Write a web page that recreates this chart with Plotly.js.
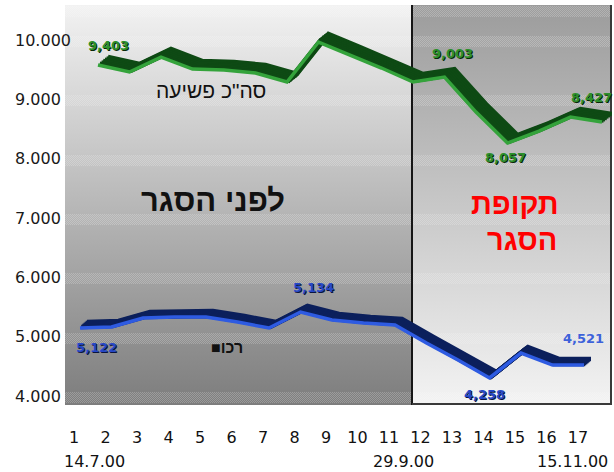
<!DOCTYPE html>
<html>
<head>
<meta charset="utf-8">
<script src="https://cdn.plot.ly/plotly-3.0.1.min.js"></script>
<style>html,body{margin:0;padding:0;background:#fff;}#chart{width:614px;height:472px;}</style>
</head>
<body>
<div id="chart"></div>
<script>
// ---- data ----
const periods = [1,2,3,4,5,6,7,8,9,10,11,12,13,14,15,16,17];
const periodText = ['1','2','3','4','5','6','7','8','9','10','11','12','13','14','15','16','17'];
const dateAt = [1, 11, 17];
const dateText = ['14.7.00', '29.9.00', '15.11.00'];
const totalCrime = [9579, 9461, 9713, 9511, 9494, 9444, 9292, 9966, 9747, 9528, 9292, 9376, 8786, 8264, 8466, 8702, 8618];
const property   = [5146, 5163, 5314, 5331, 5331, 5247, 5146, 5416, 5281, 5230, 5196, 4893, 4607, 4304, 4724, 4522, 4522];
const totalLabelAt = [1, 12, 14, 17];
const totalLabelText = ['9,403', '9,003', '8,057', '8,427'];
const propLabelAt = [1, 8, 14, 17];
const propLabelText = ['5,122', '5,134', '4,258', '4,521'];
const yTickVals = [4000, 5000, 6000, 7000, 8000, 9000, 10000];
const yTickText = ['4.000', '5.000', '6.000', '7.000', '8.000', '9.000', '10.000'];

// ---- geometry ----
const W = 614, H = 472, ML = 65, MR = 2, MT = 5, MB = 67;
const PW = W - ML - MR, PH = H - MT - MB;
const PXU = 31.5;                       // px per category
const X0 = 1 - 15 / PXU, X1 = X0 + PW / PXU;
const YPX = 59.33 / 1000;               // px per unit
const Y0 = 4000 - 9 / YPX, Y1 = Y0 + PH / YPX;

// ---- background canvas ----
function makeBg() {
  const c = document.createElement('canvas');
  c.width = PW; c.height = PH;
  const g = c.getContext('2d');
  const bx = 347;
  let gl = g.createLinearGradient(0, 0, 0, PH);
  gl.addColorStop(0, '#f2f2f2'); gl.addColorStop(1, '#7d7d7d');
  g.fillStyle = gl; g.fillRect(0, 0, bx, PH);
  let gr = g.createLinearGradient(0, 0, 0, PH);
  gr.addColorStop(0, '#9c9c9c'); gr.addColorStop(1, '#f3f3f3');
  g.fillStyle = gr; g.fillRect(bx, 0, PW - bx, PH);
  // dotted bands
  g.fillStyle = 'rgba(255,255,255,0.22)';
  yTickVals.concat([10500]).forEach(v => {
    const py = Math.round((Y1 - v) * YPX);
    for (let y = py - 4; y <= py + 6; y++) {
      if (y < 0 || y >= PH) continue;
      for (let x = (y % 2); x < PW; x += 2) g.fillRect(x, y, 1, 1);
    }
  });
  g.fillStyle = '#161616'; g.fillRect(bx - 1, 0, 2, PH);
  g.fillStyle = '#3a3a3a';
  g.fillRect(PW - 2, 0, 2, PH);
  g.fillRect(bx, PH - 2, PW - bx, 2);
  return c.toDataURL();
}

const layout = {
  width: W, height: H,
  margin: {l: ML, r: MR, t: MT, b: MB, pad: 0},
  paper_bgcolor: '#ffffff', plot_bgcolor: 'rgba(0,0,0,0)',
  showlegend: false,
  xaxis: {range: [X0, X1], tickvals: periods, ticktext: periodText, ticks: '', showgrid: false,
          zeroline: false, showline: false, ticklabelshift: -6, ticklabelstandoff: 21,
          tickfont: {family: 'DejaVu Sans', size: 16, color: '#111'}},
  yaxis: {range: [Y0, Y1], showticklabels: false, showgrid: false, zeroline: false, ticks: ''},
  images: [{source: makeBg(), xref: 'paper', yref: 'paper', x: 0, y: 1, sizex: 1, sizey: 1,
            xanchor: 'left', yanchor: 'top', sizing: 'stretch', layer: 'below'}],
  annotations: []
};

const traces = [];
let axN = 1;
function addLine(vals, dx, up, color, width) {
  axN++;
  const xa = 'xaxis' + axN, ya = 'yaxis' + axN;
  layout[xa] = {overlaying: 'x', anchor: 'y' + axN, visible: false, range: [X0 - dx / PXU, X1 - dx / PXU]};
  layout[ya] = {overlaying: 'y', anchor: 'x' + axN, visible: false, range: [Y0 - up / YPX, Y1 - up / YPX]};
  traces.push({x: periods, y: vals, xaxis: 'x' + axN, yaxis: 'y' + axN, mode: 'lines',
               line: {color: color, width: width}, hoverinfo: 'skip'});
  return 'x' + axN;
}
const steps = [1, 0.83, 0.67, 0.5, 0.33, 0.17];
// property (blue) ribbon
steps.forEach(t => addLine(property, 7 * t, 6 * t, '#0c205c', 4.5));
const bxRef = addLine(property, 0, 0, '#2e5be2', 3.5);
// total crime (green) ribbon
steps.forEach(t => addLine(totalCrime, 18 + 10 * t, 8 * t, '#0e4a14', 4.5));
const gxRef = addLine(totalCrime, 18, 0, '#34a33b', 3.5);

const bShift = [[16, -19], [13, 24], [-5, -17], [-1, 27]];
propLabelAt.forEach((p, k) => {
  layout.annotations.push({x: p, y: property[p - 1], xref: bxRef, yref: 'y' + bxRef.slice(1),
    text: propLabelText[k], showarrow: false, xshift: bShift[k][0], yshift: bShift[k][1],
    font: {family: 'DejaVu Sans', size: 13, weight: 'bold', color: k === 3 ? '#3d62da' : '#2648c8',
           shadow: k === 3 ? 'none' : '1px 1px 0px #0a1440'}});
});
const gShift = [[10, 20], [8, 24], [-2, -14], [-11, 25]];
totalLabelAt.forEach((p, k) => {
  layout.annotations.push({x: p, y: totalCrime[p - 1], xref: gxRef, yref: 'y' + gxRef.slice(1),
    text: totalLabelText[k], showarrow: false, xshift: gShift[k][0], yshift: gShift[k][1],
    font: {family: 'DejaVu Sans', size: 13, weight: 'bold', color: '#2c902c', shadow: '1px 1px 0px #062806'}});
});
// y tick labels
yTickVals.forEach((v, k) => {
  layout.annotations.push({x: (13 - ML) / PW, xref: 'paper', xanchor: 'left', y: v, yref: 'y',
    text: yTickText[k], showarrow: false, font: {family: 'DejaVu Sans', size: 16, color: '#1a1a1a'}});
});
// dates
const dShift = [14, 8, -12];
dateAt.forEach((p, k) => {
  layout.annotations.push({x: p, xref: 'x', y: (405 - 461) / PH, yref: 'paper', yanchor: 'middle',
    text: dateText[k], showarrow: false, xshift: dShift[k], font: {family: 'DejaVu Sans', size: 16, color: '#111'}});
});
// text labels
function pa(x, y) { return {x: (x - ML) / PW, y: (H - MB - y) / PH}; }
const heb = 'Liberation Sans, Arial, DejaVu Sans';
[
  {p: pa(211, 90), t: 'סה"כ פשיעה', s: 21, c: '#111', w: 'normal'},
  {p: pa(227, 347), t: '■רכו', s: 16, c: '#111', w: 'bold'},
  {p: pa(213, 200), t: 'לפני הסגר', s: 31, c: '#111', w: 'bold'},
  {p: pa(515, 204), t: 'תקופת', s: 29, c: '#ff0000', w: 'bold'},
  {p: pa(522, 240), t: 'הסגר', s: 29, c: '#ff0000', w: 'bold'}
].forEach(o => {
  layout.annotations.push({x: o.p.x, y: o.p.y, xref: 'paper', yref: 'paper', xanchor: 'center', yanchor: 'middle',
    text: o.t, showarrow: false, font: {family: heb, size: o.s, color: o.c, weight: o.w}});
});

Plotly.newPlot('chart', traces, layout, {staticPlot: true, displayModeBar: false});
</script>
</body>
</html>
